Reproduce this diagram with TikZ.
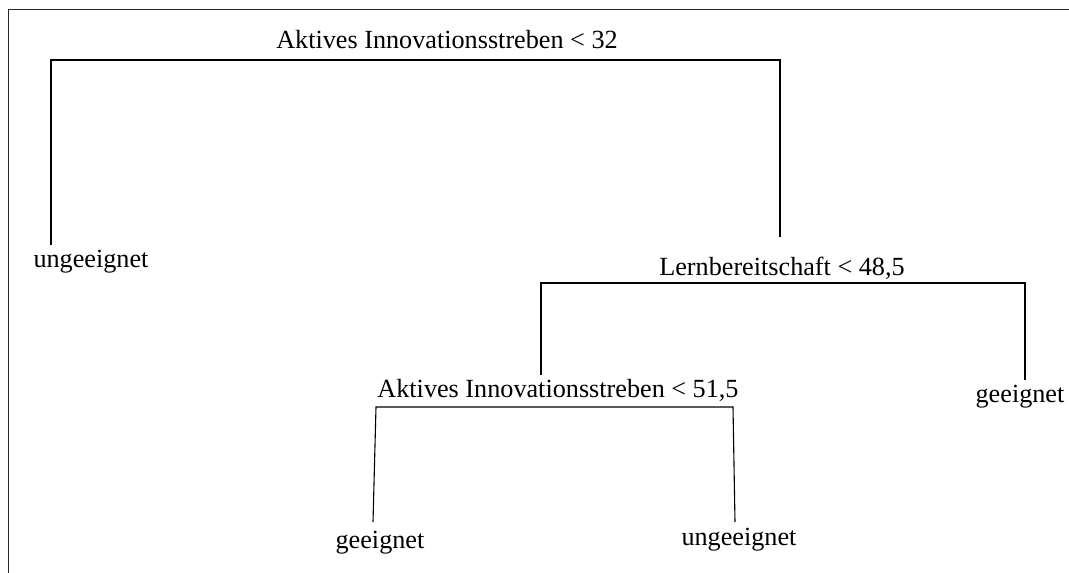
\documentclass[tikz,border=0pt]{standalone}
\usepackage{fontspec}
\setmainfont{Liberation Serif}
\begin{document}
\begin{tikzpicture}[x=1pt,y=-1pt,
  lbl/.style={inner sep=0pt,anchor=base,font=\fontsize{26.2}{30}\selectfont},
  branch/.style={draw=black,line width=1.1pt},
  frameline/.style={draw=black!85,line width=1.8pt}]
\useasboundingbox (0,0) rectangle (1069,573);
\fill[white] (0,0) rectangle (1069,573);
% frame
\coordinate (f1) at (8.5,573);
\coordinate (f2) at (8.5,9.5);
\coordinate (f3) at (1069,9.5);
\draw[frameline] (f1) -- (f2) -- (f3);
% labels
\node[lbl] (root) at (447,48) {Aktives Innovationsstreben < 32};
\node[lbl] (lern) at (782,275) {Lernbereitschaft < 48,5};
\node[lbl] (akt) at (558,397) {Aktives Innovationsstreben < 51,5};
\node[lbl] (u1) at (91,267) {ungeeignet};
\node[lbl] (g1) at (1020,402) {geeignet};
\node[lbl] (g2) at (380,548) {geeignet};
\node[lbl] (u2) at (739,545) {ungeeignet};
% branch points
\coordinate (r1) at (51,245);
\coordinate (r2) at (51,60);
\coordinate (r3) at (780,60);
\coordinate (r4) at (780,237);
\coordinate (l1) at (541,375);
\coordinate (l2) at (541,283);
\coordinate (l3) at (1025,283);
\coordinate (l4) at (1025,380);
\coordinate (a1) at (373,522);
\coordinate (a2) at (376,407);
\coordinate (a3) at (733,407);
\coordinate (a4) at (735,522);
\draw[branch] (r1) -- (r2) -- (r3) -- (r4);
\draw[branch] (l1) -- (l2) -- (l3) -- (l4);
\draw[branch] (a1) -- (a2) -- (a3) -- (a4);
\end{tikzpicture}
\end{document}
